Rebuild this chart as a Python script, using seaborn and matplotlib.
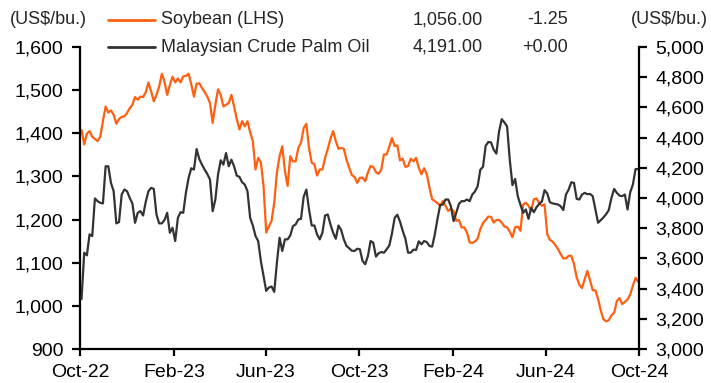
import pandas as pd
import matplotlib
matplotlib.use("Agg")
import matplotlib.pyplot as plt
from matplotlib.lines import Line2D
from matplotlib.ticker import FuncFormatter, FixedLocator
import seaborn as sns

# Twice-weekly closing prices, early Oct-2022 to end of Sep-2024
first_obs = "2022-10-03"
obs_step = "84h"

soybean = [
    1408, 1374, 1399, 1405, 1392, 1387, 1382, 1392, 1428, 1462,
    1448, 1453, 1443, 1422, 1433, 1438, 1439, 1447, 1458, 1466,
    1484, 1478, 1485, 1484, 1495, 1518, 1497, 1474, 1489, 1508,
    1538, 1520, 1489, 1512, 1531, 1518, 1527, 1518, 1532, 1533,
    1538, 1514, 1485, 1515, 1516, 1505, 1496, 1485, 1470, 1424,
    1466, 1502, 1489, 1462, 1466, 1470, 1489, 1462, 1433, 1409,
    1428, 1416, 1428, 1402, 1382, 1316, 1343, 1333, 1278, 1170,
    1184, 1197, 1239, 1309, 1347, 1370, 1312, 1278, 1347, 1335,
    1335, 1366, 1378, 1412, 1422, 1366, 1332, 1328, 1302, 1316,
    1316, 1343, 1364, 1387, 1405, 1382, 1364, 1366, 1364, 1339,
    1320, 1303, 1299, 1285, 1297, 1297, 1289, 1309, 1324, 1322,
    1310, 1306, 1316, 1351, 1351, 1369, 1389, 1370, 1372, 1337,
    1341, 1322, 1324, 1341, 1335, 1343, 1320, 1305, 1319, 1305,
    1274, 1247, 1243, 1238, 1232, 1243, 1232, 1220, 1225, 1220,
    1197, 1199, 1182, 1182, 1170, 1147, 1146, 1149, 1156, 1178,
    1192, 1199, 1207, 1206, 1193, 1199, 1199, 1193, 1184, 1182,
    1172, 1159, 1182, 1184, 1174, 1235, 1239, 1232, 1220, 1247,
    1249, 1238, 1232, 1235, 1166, 1153, 1149, 1141, 1132, 1120,
    1110, 1110, 1116, 1116, 1097, 1066, 1049, 1041, 1062, 1081,
    1059, 1036, 1036, 1016, 989, 969, 964, 967, 978, 984,
    1011, 1018, 1004, 1009, 1015, 1026, 1047, 1065, 1056,
]

palm_oil = [
    3330, 3638, 3620, 3759, 3748, 3997, 3979, 3968, 3964, 4210,
    4210, 4100, 4045, 3832, 3840, 4023, 4056, 4045, 4001, 3964,
    3836, 3902, 3913, 3884, 3975, 4045, 4067, 4060, 3891, 3832,
    3832, 3854, 3902, 3770, 3803, 3715, 3869, 3906, 3902, 4034,
    4133, 4197, 4188, 4324, 4258, 4221, 4188, 4159, 4122, 3913,
    3990, 4155, 4250, 4221, 4298, 4210, 4254, 4210, 4148, 4140,
    4104, 4089, 4045, 3869, 3818, 3748, 3715, 3583, 3484, 3385,
    3407, 3414, 3378, 3572, 3737, 3649, 3726, 3726, 3752, 3814,
    3825, 3858, 3862, 4008, 4056, 3924, 3818, 3818, 3759, 3726,
    3770, 3884, 3891, 3825, 3770, 3730, 3818, 3788, 3726, 3682,
    3667, 3651, 3649, 3664, 3660, 3583, 3561, 3616, 3715, 3704,
    3612, 3634, 3642, 3638, 3660, 3686, 3766, 3869, 3889, 3843,
    3783, 3730, 3638, 3638, 3658, 3656, 3713, 3693, 3715, 3708,
    3682, 3678, 3759, 3862, 3953, 3957, 3990, 3990, 3946, 3847,
    3902, 3961, 3979, 3979, 3990, 3979, 4023, 4043, 4078, 4188,
    4206, 4346, 4371, 4368, 4320, 4294, 4441, 4522, 4500, 4474,
    4254, 4085, 4126, 4012, 3955, 3902, 3924, 3862, 3935, 3906,
    3939, 3961, 3977, 4052, 4030, 3972, 3964, 3961, 3957, 3946,
    3920, 4023, 4056, 4104, 4100, 3994, 3990, 4023, 4034, 4025,
    4027, 4012, 3924, 3836, 3854, 3871, 3893, 3920, 4001, 4060,
    4034, 4016, 4012, 4023, 3924, 4038, 4089, 4192, 4191,
]

series_names = ["Soybean (LHS)", "Malaysian Crude Palm Oil"]
last_values = ["1,056.00", "4,191.00"]
changes = ["-1.25", "+0.00"]
unit_label = "(US$/bu.)"

x_tick_dates = ["2022-10-01", "2023-02-01", "2023-06-01", "2023-10-01",
                "2024-02-01", "2024-06-01", "2024-10-01"]
left_ticks = [900, 1000, 1100, 1200, 1300, 1400, 1500, 1600]
right_ticks = [3000, 3200, 3400, 3600, 3800, 4000, 4200, 4400, 4600, 4800, 5000]

ORANGE = "#FF5F0F"
DARK = "#333333"

dates = pd.date_range(first_obs, periods=len(soybean), freq=obs_step)
df = pd.DataFrame({"date": dates, "soybean": soybean, "palm": palm_oil})

sns.set_style("ticks")
plt.rcParams["font.family"] = ["Liberation Sans", "DejaVu Sans"]

W, H = 711, 383
fig = plt.figure(figsize=(W / 100, H / 100), dpi=100)
ax = fig.add_axes([80 / W, 1 - 349 / H, (639 - 80) / W, (349 - 47) / H])
ax2 = ax.twinx()

sns.lineplot(data=df, x="date", y="soybean", ax=ax, color=ORANGE, lw=1.6)
sns.lineplot(data=df, x="date", y="palm", ax=ax2, color=DARK, lw=1.6)

tick_pos = pd.to_datetime(x_tick_dates)
ax.set_xlim(tick_pos[0], tick_pos[-1])
ax.xaxis.set_major_locator(FixedLocator(matplotlib.dates.date2num(tick_pos)))
ax.set_xticklabels([d.strftime("%b-%y") for d in tick_pos])

ax.set_ylim(left_ticks[0], left_ticks[-1])
ax.set_yticks(left_ticks)
ax2.set_ylim(right_ticks[0], right_ticks[-1])
ax2.set_yticks(right_ticks)
comma = FuncFormatter(lambda v, p: f"{v:,.0f}")
ax.yaxis.set_major_formatter(comma)
ax2.yaxis.set_major_formatter(comma)

for a in (ax, ax2):
    a.set_xlabel("")
    a.set_ylabel("")
    a.spines["top"].set_visible(False)
    for s in a.spines.values():
        s.set_linewidth(1.6)
        s.set_color("black")
ax.spines["right"].set_visible(False)
ax2.spines["left"].set_visible(False)
ax2.spines["bottom"].set_visible(False)

ax.tick_params(axis="x", direction="out", length=5, width=1.6, pad=6,
               labelsize=14, colors="black")
ax.tick_params(axis="y", direction="out", length=6, width=1.6, pad=6,
               labelsize=14, colors="black")
ax2.tick_params(axis="y", direction="out", length=6, width=1.6, pad=6,
                labelsize=14, colors="black")

# Header: units on both sides, key rows with latest value and change
fs = 13
fig.text(10 / W, 1 - 20 / H, unit_label, fontsize=fs, va="center", ha="left")
fig.text(708 / W, 1 - 20 / H, unit_label, fontsize=fs, va="center", ha="right")

row_y = [20, 47]
for y, col, name, val, chg in zip(row_y, [ORANGE, DARK], series_names,
                                  last_values, changes):
    yf = 1 - y / H
    fig.add_artist(Line2D([108 / W, 155 / W], [yf, yf], color=col, lw=2,
                          transform=fig.transFigure))
    fig.text(161 / W, yf, name, fontsize=fs, va="center", ha="left")
    fig.text(483 / W, yf, val, fontsize=fs, va="center", ha="right")
    fig.text(568 / W, yf, chg, fontsize=fs, va="center", ha="right")

fig.savefig("out.png", dpi=100)
